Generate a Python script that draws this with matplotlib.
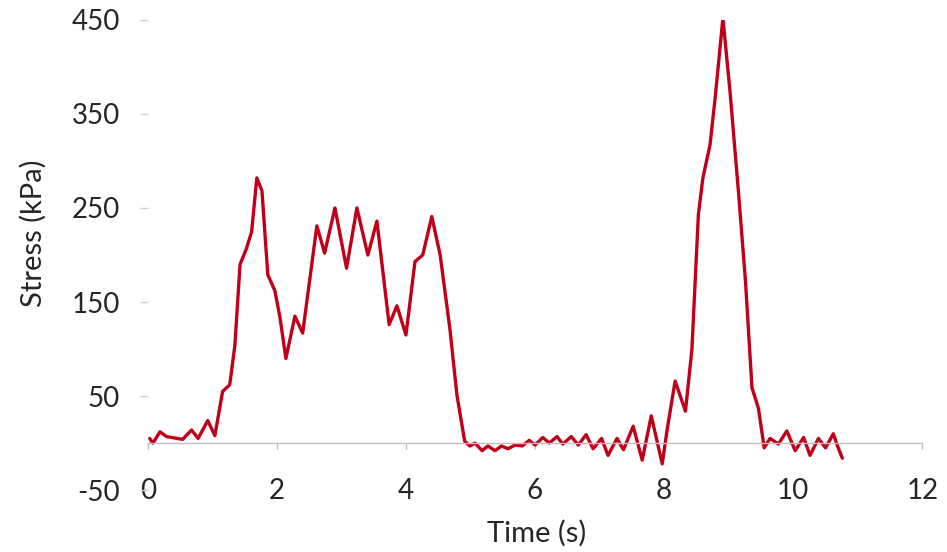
import matplotlib
matplotlib.use('agg')
import matplotlib.pyplot as plt

# Time (s) and stress (kPa)
time_s = [0.03, 0.08, 0.19, 0.29, 0.54, 0.68, 0.78, 0.93, 1.04, 1.16, 1.27, 1.35,
          1.43, 1.53, 1.61, 1.69, 1.77, 1.86, 1.97, 2.05, 2.14, 2.28, 2.40, 2.62,
          2.74, 2.90, 3.08, 3.24, 3.41, 3.55, 3.74, 3.86, 4.00, 4.14, 4.26, 4.40,
          4.53, 4.68, 4.79, 4.91, 4.99, 5.07, 5.18, 5.27, 5.38, 5.48, 5.58, 5.69,
          5.80, 5.91, 6.00, 6.12, 6.22, 6.34, 6.43, 6.56, 6.67, 6.79, 6.90, 7.03,
          7.13, 7.27, 7.37, 7.52, 7.66, 7.80, 7.97, 8.05, 8.17, 8.33, 8.43, 8.53,
          8.60, 8.71, 8.79, 8.91, 9.02, 9.15, 9.26, 9.36, 9.46, 9.55, 9.64, 9.77,
          9.90, 10.03, 10.16, 10.26, 10.39, 10.50, 10.62, 10.68, 10.76]
stress_kpa = [5, 0, 12, 7, 4, 14, 5, 24, 8, 55, 62, 104,
              190, 207, 225, 282, 268, 179, 162, 133, 90, 135, 117, 231,
              202, 250, 186, 250, 200, 236, 126, 146, 115, 193, 200, 241,
              200, 122, 51, 2, -3, 0, -8, -3, -8, -3, -6, -2,
              -3, 3, -2, 6, 0, 7, -1, 7, -2, 9, -6, 5,
              -13, 5, -7, 18, -18, 29, -22, 16, 66, 34, 100, 243,
              282, 317, 367, 452, 374, 268, 172, 59, 37, -5, 5, -1,
              13, -8, 6, -13, 5, -5, 10, -2, -16]

x_ticks = [0, 2, 4, 6, 8, 10, 12]
y_ticks = [-50, 50, 150, 250, 350, 450]

plt.rcParams['font.family'] = ['Lato', 'DejaVu Sans']
plt.rcParams['axes.unicode_minus'] = False

fig = plt.figure(figsize=(9.47, 5.52), dpi=100)
ax = fig.add_axes([0.156, 0.112, 0.818, 0.852])

ax.plot(time_s, stress_kpa, color='#C00018', linewidth=2.4,
        solid_joinstyle='round', solid_capstyle='round')

ax.set_xlim(0, 12)
ax.set_ylim(-50, 450)
ax.set_xticks(x_ticks)
ax.set_yticks(y_ticks)

for side in ['top', 'right', 'left']:
    ax.spines[side].set_visible(False)
ax.spines['bottom'].set_position(('data', 0))
ax.spines['bottom'].set_color('#BFBFBF')
ax.spines['bottom'].set_linewidth(1.0)

ax.tick_params(axis='x', direction='out', length=4, width=1, color='#BFBFBF',
               pad=21, labelsize=20, labelcolor='#262626')
ax.tick_params(axis='y', direction='out', length=6, width=1, color='#D0D0D0',
               pad=14, labelsize=20, labelcolor='#262626')

ax.set_xlabel('Time (s)', fontsize=21, color='#262626')
ax.set_ylabel('Stress (kPa)', fontsize=21, color='#262626')
ax.xaxis.set_label_coords(0.502, -0.064)
ax.yaxis.set_label_coords(-0.131, 0.547)

fig.savefig('out.png', dpi=100)
